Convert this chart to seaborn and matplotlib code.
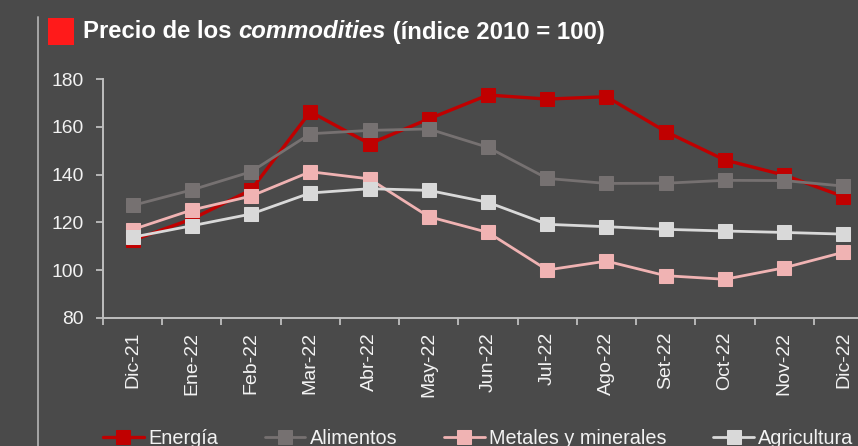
import numpy as np
import pandas as pd
import matplotlib
matplotlib.use("Agg")
import matplotlib.pyplot as plt
from matplotlib.lines import Line2D
from matplotlib.patches import Rectangle
from matplotlib.ticker import FixedLocator
import seaborn as sns

meses = ["Dic-21", "Ene-22", "Feb-22", "Mar-22", "Abr-22", "May-22", "Jun-22",
         "Jul-22", "Ago-22", "Set-22", "Oct-22", "Nov-22", "Dic-22"]
energia = [112.5, 121.4, 133.6, 166.3, 152.9, 163.3, 173.3, 171.6, 172.6, 158.0, 146.1, 139.8, 130.8]
alimentos = [127.1, 133.6, 141.2, 157.1, 158.5, 159.1, 151.4, 138.4, 136.3, 136.4, 137.6, 137.5, 135.2]
metales = [117.0, 125.2, 131.0, 141.2, 138.2, 122.4, 115.8, 100.1, 103.8, 97.7, 96.2, 101.0, 107.5]
agricultura = [113.8, 118.6, 123.5, 132.3, 134.1, 133.4, 128.4, 119.2, 118.2, 117.1, 116.4, 115.8, 115.1]
series_names = ["Energía", "Alimentos", "Metales y minerales", "Agricultura"]
colors = ["#c00000", "#767171", "#f0b3b3", "#d9d9d9"]
yticks = [80, 100, 120, 140, 160, 180]

BG = "#4a4a4a"
TXT = "#f2f2f2"
AX = "#bfbfbf"

sns.set_theme(style="dark", rc={
    "figure.facecolor": BG, "axes.facecolor": BG, "savefig.facecolor": BG,
    "axes.edgecolor": AX, "text.color": TXT, "xtick.color": AX, "ytick.color": AX,
    "xtick.labelcolor": TXT, "ytick.labelcolor": TXT,
})
plt.rcParams["font.family"] = ["Liberation Sans", "DejaVu Sans"]

fig = plt.figure(figsize=(8.58, 4.46), dpi=100)
ax = fig.add_axes([103/858, 1-318/446, 770/858, (318-79)/446])

data = [energia, alimentos, metales, agricultura]
lws = [2.4, 2.0, 2.0, 2.0]
for name, vals, c, lw in zip(series_names, data, colors, lws):
    df = pd.DataFrame({"mes": meses, "valor": vals})
    sns.lineplot(data=df, x="mes", y="valor", ax=ax, color=c, lw=lw,
                 marker="s", markersize=9.5, markeredgecolor=c, label=name,
                 sort=False)

ax.set_xlim(-0.5, len(meses) - 0.5)
ax.set_ylim(80, 180)
ax.set_yticks(yticks)
ax.set_xlabel("")
ax.set_ylabel("")
ax.xaxis.set_major_locator(FixedLocator(np.arange(len(meses))))
ax.set_xticklabels(meses, rotation=90, fontsize=14)
ax.xaxis.set_minor_locator(FixedLocator(np.arange(-0.5, len(meses), 1.0)))
ax.tick_params(axis="x", which="major", length=0, pad=10)
ax.tick_params(axis="x", which="minor", length=5, width=1.3, color=AX, bottom=True)
ax.tick_params(axis="y", length=5, width=1.3, color=AX, pad=9, labelsize=13.9, left=True)
for s in ["top", "right"]:
    ax.spines[s].set_visible(False)
for s in ["left", "bottom"]:
    ax.spines[s].set_color(AX)
    ax.spines[s].set_linewidth(1.4)
ax.grid(False)

handles, labels = ax.get_legend_handles_labels()
ax.legend(handles, labels, loc="center left", bbox_to_anchor=(103/858, 8/446),
          bbox_transform=fig.transFigure, ncol=4, frameon=False,
          handlelength=2.05, handletextpad=0.22, columnspacing=2.35,
          borderaxespad=0, borderpad=0, fontsize=14.3, labelcolor=TXT)

# decorative elements
fig.add_artist(Line2D([38/858, 38/858], [0, 1-17/446], transform=fig.transFigure,
                      color="#a6a6a6", lw=1.4))
fig.add_artist(Rectangle((48/858, 1-45/446), 26/858, 27/446, transform=fig.transFigure,
                         facecolor="#ff1a1a", edgecolor="none"))

# title with italic word
renderer = fig.canvas.get_renderer()
x0 = 83/858
ty = 1-32/446
parts = [("Precio de los ", "normal"), ("commodities", "italic"), (" (índice 2010 = 100)", "normal")]
for txt, style in parts:
    t = fig.text(x0, ty, txt, fontsize=17.2, fontweight="bold", style=style,
                 color="white", va="center", ha="left")
    bb = t.get_window_extent(renderer=renderer)
    x0 += bb.width / fig.bbox.width

fig.savefig("out.png", dpi=100)
